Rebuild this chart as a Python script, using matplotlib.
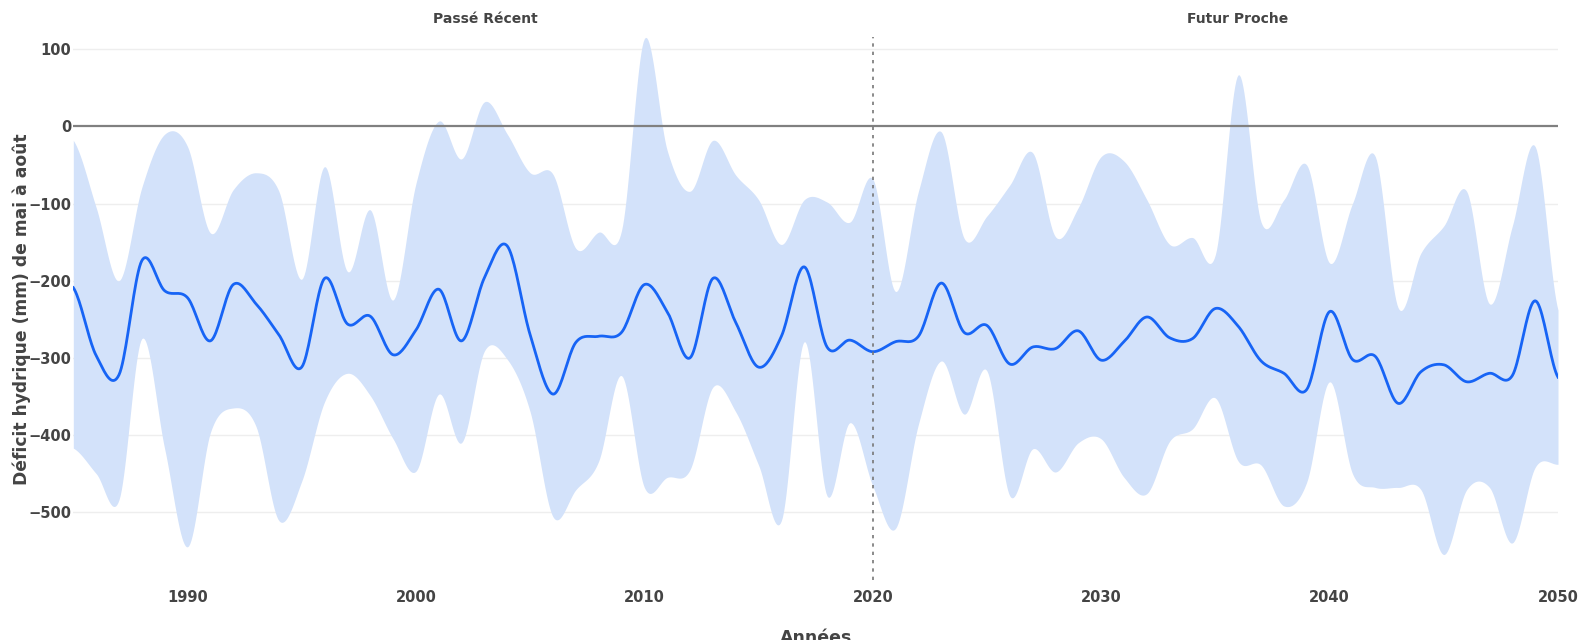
import numpy as np
import matplotlib
matplotlib.use("Agg")
import matplotlib.pyplot as plt

plt.rcParams['font.family'] = ['DejaVu Sans']

years = list(range(1985, 2051))

median = [-209, -297, -322, -174, -213, -222, -278, -205, -230, -270,
          -312, -197, -256, -246, -296, -264, -211, -278, -196, -155,
          -270, -347, -280, -272, -267, -205, -240, -300, -197, -254,
          -312, -272, -182, -286, -277, -292, -279, -272, -203, -267,
          -258, -308, -286, -288, -265, -303, -279, -247, -274, -275,
          -236, -259, -304, -320, -341, -240, -302, -298, -359, -318,
          -309, -331, -320, -323, -226, -325]

upper = [-18, -105, -200, -79, -10, -26, -138, -82, -60, -84,
         -198, -52, -188, -108, -225, -74, 7, -42, 32, -10,
         -60, -62, -158, -137, -135, 114, -31, -84, -18, -63,
         -95, -153, -95, -98, -124, -68, -214, -84, -7, -145,
         -116, -76, -34, -143, -105, -39, -45, -95, -153, -144,
         -166, 67, -124, -95, -50, -177, -100, -39, -235, -164,
         -129, -84, -230, -129, -26, -238]

lower = [-417, -450, -484, -275, -418, -545, -397, -365, -389, -511,
         -460, -357, -320, -349, -405, -447, -347, -410, -291, -302,
         -370, -506, -471, -434, -323, -468, -455, -445, -338, -370,
         -439, -511, -279, -479, -384, -466, -521, -386, -304, -373,
         -317, -479, -418, -448, -410, -405, -455, -476, -408, -392,
         -352, -434, -439, -492, -461, -331, -450, -468, -468, -471,
         -555, -471, -468, -540, -442, -438]

split_year = 2020
period_titles = ["Passé Récent", "Futur Proche"]
y_ticks = [-500, -400, -300, -200, -100, 0, 100]
x_ticks = [1990, 2000, 2010, 2020, 2030, 2040, 2050]


def spline(x, y, n=20):
    # catmull-rom curve through the yearly points (like plotly's line_shape='spline')
    x = np.asarray(x, float)
    y = np.asarray(y, float)
    xs, ys = [], []
    for i in range(len(x) - 1):
        y0 = y[i - 1] if i > 0 else y[i]
        y3 = y[i + 2] if i + 2 < len(y) else y[i + 1]
        y1, y2 = y[i], y[i + 1]
        t = np.linspace(0, 1, n, endpoint=False)
        m1 = (y2 - y0) / 2
        m2 = (y3 - y1) / 2
        h00 = 2 * t**3 - 3 * t**2 + 1
        h10 = t**3 - 2 * t**2 + t
        h01 = -2 * t**3 + 3 * t**2
        h11 = t**3 - t**2
        xs.append(x[i] + t * (x[i + 1] - x[i]))
        ys.append(h00 * y1 + h10 * m1 + h01 * y2 + h11 * m2)
    xs.append([x[-1]])
    ys.append([y[-1]])
    return np.concatenate(xs), np.concatenate(ys)


fig = plt.figure(figsize=(15.81, 6.4), dpi=100)
ax = fig.add_axes([73.3 / 1581, 1 - 580 / 640, 1484.7 / 1581, 543 / 640])

xu, yu = spline(years, upper)
xl, yl = spline(years, lower)
xm, ym = spline(years, median)

ax.fill_between(xu, yl, yu, color='#d3e2fa', lw=0, zorder=2)
ax.plot(xm, ym, color='#1764f5', lw=2, zorder=4)

ax.set_xlim(1985, 2050)
ax.set_ylim(-588, 116)

for v in y_ticks:
    if v == 0:
        ax.axhline(0, color='#808080', lw=1.6, zorder=3)
    else:
        ax.axhline(v, color='#eeeeee', lw=1, zorder=1)

ax.axvline(split_year, color='#777777', lw=1.2, ls=(0, (2, 3)), zorder=5)

ax.set_xticks(x_ticks)
ax.set_yticks(y_ticks)
ax.set_yticklabels(['\u2212' + str(-v) if v < 0 else str(v) for v in y_ticks])
ax.tick_params(length=0, labelsize=10.5, labelcolor='#444444')
ax.tick_params(axis='y', pad=1.5)
ax.tick_params(axis='x', pad=7)
for lab in ax.get_xticklabels() + ax.get_yticklabels():
    lab.set_fontweight('bold')

for s in ax.spines.values():
    s.set_visible(False)

ax.text(0.2773, 1.034, period_titles[0], transform=ax.transAxes, ha='center', va='center',
        fontsize=10, fontweight='bold', color='#444444')
ax.text(0.784, 1.034, period_titles[1], transform=ax.transAxes, ha='center', va='center',
        fontsize=10, fontweight='bold', color='#444444')

fig.text(22 / 1581, 1 - 309 / 640, "Déficit hydrique (mm) de mai à août", rotation=90,
         ha='center', va='center', fontsize=12.3, fontweight='bold', color='#444444')
# axis title sits at the very bottom edge, partly clipped as in the original
fig.text(816 / 1581, 1 - 629 / 640, "Années", ha='center', va='top',
         fontsize=12.5, fontweight='bold', color='#444444')

fig.savefig('out.png', dpi=100)
